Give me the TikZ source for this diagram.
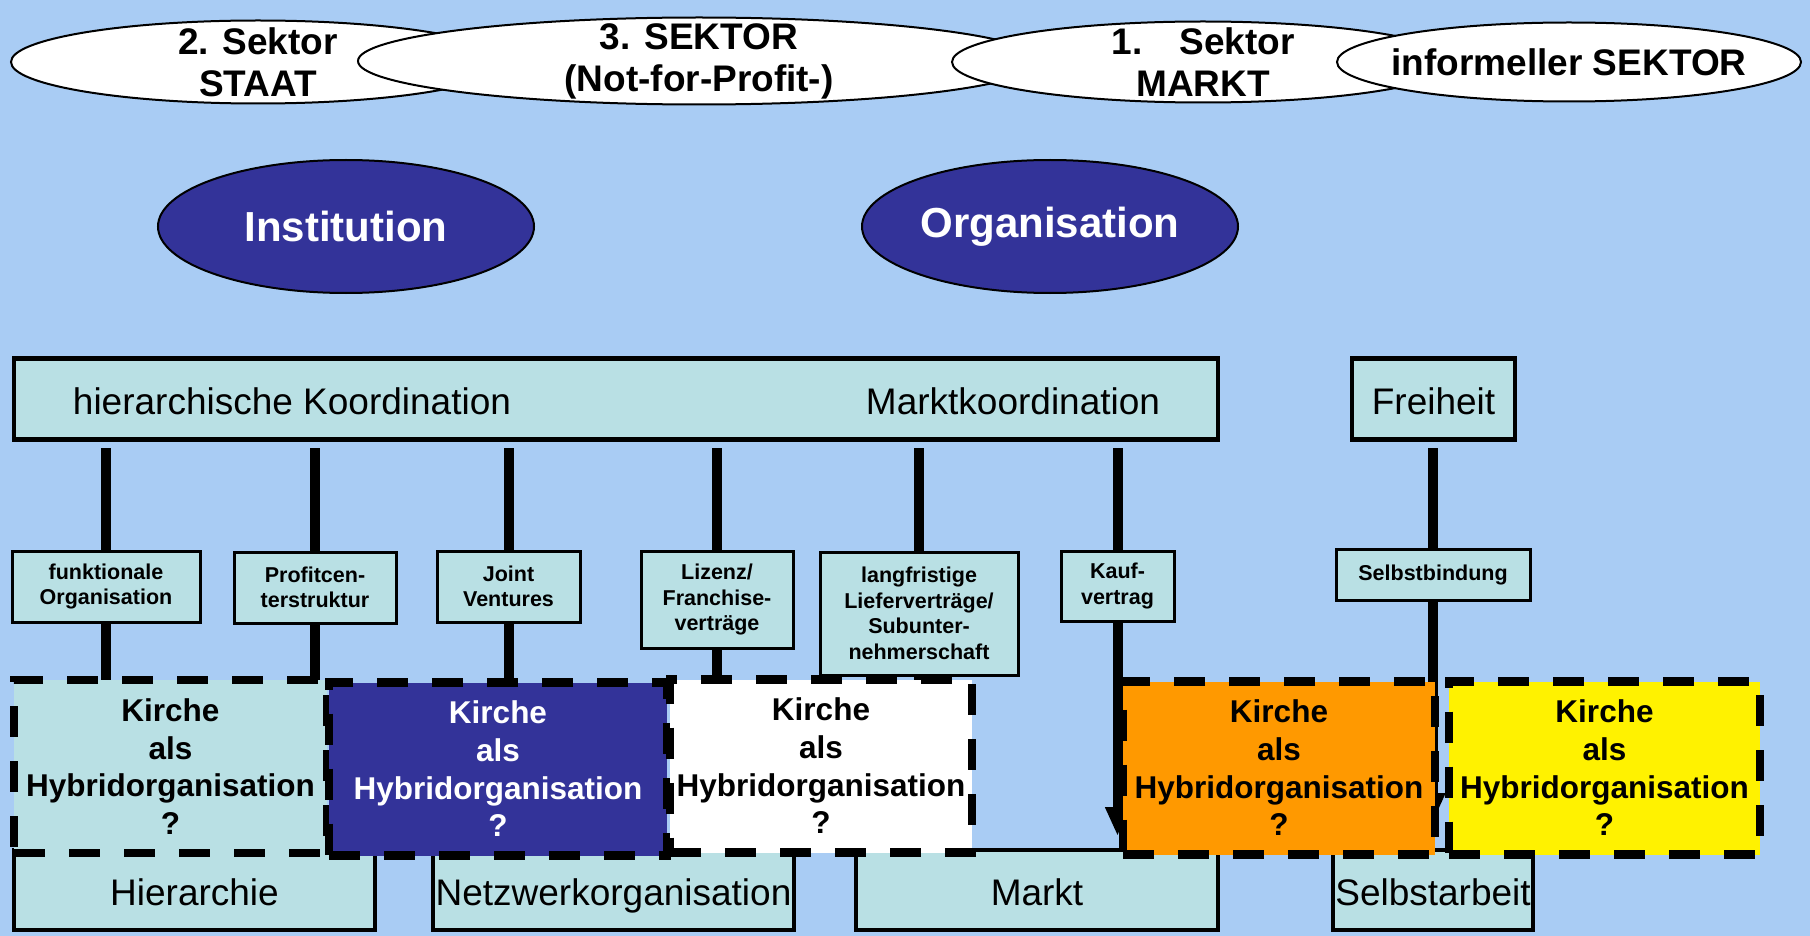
\documentclass[tikz,border=0pt]{standalone}
\usepackage{fontspec}
\setmainfont{Liberation Sans}
\usetikzlibrary{arrows.meta,shapes.geometric}

\definecolor{himmel}{RGB}{169,204,244}
\definecolor{petrol}{RGB}{185,224,228}
\definecolor{indigo}{RGB}{51,51,153}
\definecolor{signal}{RGB}{255,153,0}

\tikzset{
	sektor/.style={ellipse, draw, line width=2pt, fill=white, inner sep=0pt},
	sektortext/.style={align=center, inner sep=0pt, font=\bfseries\fontsize{37}{42}\selectfont},
	ebene/.style={ellipse, draw, line width=2pt, fill=indigo, text=white, inner sep=0pt,
		minimum width=376pt, minimum height=133pt, font=\bfseries\fontsize{42}{48}\selectfont},
	leistentext/.style={inner sep=0pt, text height=38pt, text depth=8pt,
		font=\fontsize{37}{42}\selectfont},
	leiste/.style={leistentext, draw, line width=4.5pt, fill=petrol, minimum height=81pt},
	form/.style={draw, line width=3pt, fill=petrol, inner sep=0pt, align=center,
		font=\bfseries\fontsize{21.5}{25.5}\selectfont},
	hybrid/.style={draw, line width=8.5pt, dash pattern=on 31pt off 24pt, inner sep=0pt,
		minimum height=173pt, align=center, font=\bfseries\fontsize{31.5}{37.7}\selectfont},
	stem/.style={line width=10pt},
	pfeil/.style={stem, -{Triangle[width=23pt,length=29pt]}},
}

\begin{document}
\begin{tikzpicture}[x=1pt, y=-1pt]
\fill[himmel] (0,0) rectangle (1810,936);
\useasboundingbox (0,0) rectangle (1810,936);

\foreach \n/\x/\y/\w/\h/\t in {sektor2/258/62/494/83/{2. Sektor\\STAAT},
		sektor3/699/61/682/87/{3. SEKTOR\\(Not-for-Profit-)},
		sektor1/1203/62/502/81/{1.\hspace{1em}Sektor\\MARKT},
		informell/1569/62/464/79/{informeller SEKTOR}} {
	\node[sektor, minimum width=\w pt, minimum height=\h pt] (\n) at (\x,\y) {};
	\node[sektortext] (\n-t) at (\n) {\t};
}

\node[ebene] (institution) at (346,226.5) {Institution};
\node[ebene] (organisation) at (1050,226.5) {Organisation};

\node[leiste, minimum width=1204pt] (koordination) at (616,399) {};
\node[leistentext, anchor=west] (hierko) at ([xshift=61pt]koordination.west) {hierarchische Koordination};
\node[leistentext, anchor=east] (marktko) at ([xshift=-60pt]koordination.east) {Marktkoordination};
\node[leiste, minimum width=163pt] (freiheit) at (1433.5,399) {Freiheit};

\foreach \n/\x/\y/\w/\h/\t in {
		funktional/106/586.5/188/71/{funktionale\\Organisation},
		profitcenter/315/587.5/162/71/{Profitcen-\\terstruktur},
		joint/508.5/586.5/143/71/{Joint\\Ventures},
		lizenz/717/599.5/152/97/{Lizenz/\\Franchise-\\verträge},
		liefer/919/613.5/198/123/{langfristige\\Lieferverträge/\\Subunter-\\nehmerschaft},
		kauf/1117.5/586/113/70/{Kauf-\\vertrag},
		selbstbindung/1433/574.5/194/51/{Selbstbindung}}
	\node[form, minimum width=\w pt, minimum height=\h pt] (\n) at (\x,\y) {\t};

\coordinate (stemtop) at (0,448);
\coordinate (hybridtop) at (0,681);
\coordinate (kaufspitze) at (1117.5,836);
\coordinate (selbstspitze) at (1433,822);
\foreach \n in {funktional,profitcenter,joint,lizenz,liefer,kauf,selbstbindung}
	\draw[stem] (\n |- stemtop) -- (\n);
\foreach \n in {funktional,profitcenter,joint,lizenz,liefer}
	\draw[stem] (\n) -- (\n |- hybridtop);
\draw[pfeil] (kauf) -- (kaufspitze);
\draw[pfeil] (selbstbindung) -- (selbstspitze);

\foreach \n/\x/\w/\t in {hierarchie/194.5/361/Hierarchie, netzwerk/613.5/361/Netzwerkorganisation,
		marktform/1037/362/Markt, selbstarbeit/1433/200/Selbstarbeit}
	\node[leiste, minimum width=\w pt, minimum height=80pt] (\n) at (\x,890) {\t};

% Kirche als Hybridorganisation
\foreach \x/\y/\w/\farbe/\schrift [count=\i] in {170.5/766.5/313/petrol/black,
		498/769/338/indigo/white, 821/766/302/white/black,
		1279/768/312/signal/black, 1604.5/768/311/yellow/black}
	\node[hybrid, fill=\farbe, text=\schrift, minimum width=\w pt] (kirche\i) at (\x,\y)
		{Kirche\\als\\Hybridorganisation\\?};
\end{tikzpicture}
\end{document}
